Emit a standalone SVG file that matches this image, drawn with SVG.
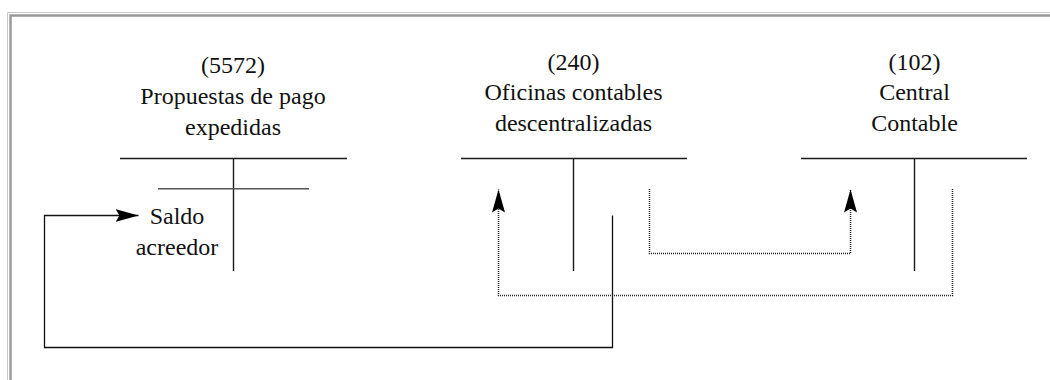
<svg xmlns="http://www.w3.org/2000/svg" width="1050" height="380" viewBox="0 0 1050 380">
  <style>
    .lbl { font-family: 'Liberation Serif', 'Times New Roman', Times, serif; font-size: 24px; fill: #111; text-anchor: middle; }
    .acct { stroke: #1a1a1a; stroke-width: 1.4; fill: none; }
    .sub { stroke: #555; stroke-width: 1.6; fill: none; }
    .flow { stroke: #111; stroke-width: 1.3; fill: none; }
    .dot { stroke: #222; stroke-width: 1.5; stroke-dasharray: 1 1; fill: none; }
    .frame-outer { stroke: #c8c8c8; stroke-width: 1; fill: none; }
    .frame-inner { stroke: #999; stroke-width: 2.4; fill: none; }
  </style>
  <defs>
    <marker id="dart" markerWidth="24" markerHeight="14" refX="23" refY="6.5" orient="auto" markerUnits="userSpaceOnUse">
      <path d="M0,0 L23,6.5 L0,13 L4,6.5 Z" fill="#000"/>
    </marker>
  </defs>

  <rect width="1050" height="380" fill="#fff"/>

  <!-- panel frame (top and left edges) -->
  <g id="frame">
    <path class="frame-outer" d="M7.5,380 V12.5 H1050"/>
    <path class="frame-inner" d="M10.5,380 V15.5 H1050"/>
  </g>

  <!-- account 5572 -->
  <g id="acct-5572" font-family="Liberation Serif, serif">
    <text class="lbl" x="233" y="73">(5572)</text>
    <text class="lbl" x="233" y="104">Propuestas de pago</text>
    <text class="lbl" x="233" y="135">expedidas</text>
    <path class="acct" d="M120,158.5 H347 M233.5,158.5 V271"/>
    <path class="sub" d="M158,188.8 H309"/>
    <text class="lbl" x="177" y="224">Saldo</text>
    <text class="lbl" x="177" y="255">acreedor</text>
  </g>

  <!-- account 240 -->
  <g id="acct-240">
    <text class="lbl" x="573.5" y="70">(240)</text>
    <text class="lbl" x="573.5" y="100">Oficinas contables</text>
    <text class="lbl" x="573.5" y="131">descentralizadas</text>
    <path class="acct" d="M461,158.5 H687 M573.5,158.5 V271"/>
  </g>

  <!-- account 102 -->
  <g id="acct-102">
    <text class="lbl" x="914.5" y="70">(102)</text>
    <text class="lbl" x="914.5" y="100">Central</text>
    <text class="lbl" x="914.5" y="131">Contable</text>
    <path class="acct" d="M801,158.5 H1027 M914.5,158.5 V271"/>
  </g>

  <!-- connectors -->
  <g id="connectors">
    <path class="flow" d="M612.5,215.5 V347.5 H44.5 V215.5 H138.5" marker-end="url(#dart)"/>
    <path class="dot" d="M649.5,189 V253.5 H850.5 V189.5" marker-end="url(#dart)"/>
    <path class="dot" d="M952.5,189 V295.5 H498.5 V189.5" marker-end="url(#dart)"/>
  </g>
</svg>
